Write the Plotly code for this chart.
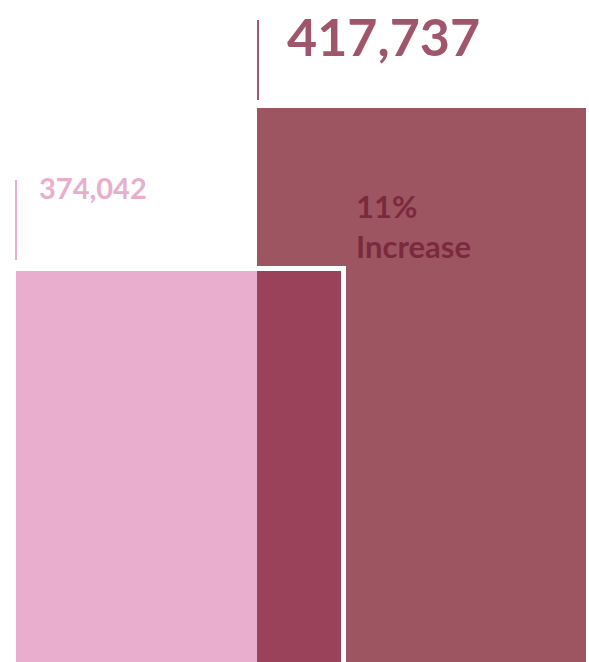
"""Overlapping bar comparison: 374,042 vs 417,737."""

import plotly.graph_objects as go

# data
labels = ["Before", "After"]
values = [374042, 417737]
value_text = ["374,042", "417,737"]
change_text = "11%<br>Increase"

PINK = "#e9aecd"
DARK = "#9e5562"
OVERLAP = "#9a4259"
LABEL_DARK = "#a0566a"
NOTE = "#7b2a3e"

# horizontal layout, in pixel-like x units (range 0..589)
pink_x0, pink_x1 = 16, 257
over_x1 = 341
dark_x0, dark_x1 = 257, 586

Y_MIN, Y_MAX = 269229, 446688

fig = go.Figure()

fig.add_trace(
    go.Bar(
        x=[(dark_x0 + dark_x1) / 2],
        y=[values[1]],
        width=[dark_x1 - dark_x0],
        marker={"color": DARK, "line": {"width": 0}},
        hoverinfo="skip",
    )
)
fig.add_trace(
    go.Bar(
        x=[(pink_x0 + pink_x1) / 2],
        y=[values[0]],
        width=[pink_x1 - pink_x0],
        marker={"color": PINK, "line": {"width": 0}},
        hoverinfo="skip",
    )
)
fig.add_trace(
    go.Bar(
        x=[(pink_x1 + over_x1) / 2],
        y=[values[0]],
        width=[over_x1 - pink_x1],
        marker={"color": OVERLAP, "line": {"width": 0}},
        hoverinfo="skip",
    )
)

# white frame around the overlap
shapes = [
    dict(type="rect", xref="x", yref="y", ysizemode="pixel", yanchor=values[0],
         x0=pink_x1, x1=over_x1 + 5, y0=0, y1=5,
         fillcolor="white", line={"width": 0}, layer="above"),
    dict(type="rect", xref="x", yref="y", ysizemode="pixel", yanchor=values[0],
         x0=over_x1, x1=over_x1 + 5, y0=-800, y1=5,
         fillcolor="white", line={"width": 0}, layer="above"),
    # leader ticks
    dict(type="line", xref="x", yref="y", ysizemode="pixel", yanchor=values[0],
         x0=16, x1=16, y0=11, y1=91, line={"color": PINK, "width": 2}),
    dict(type="line", xref="x", yref="y", ysizemode="pixel", yanchor=values[1],
         x0=258, x1=258, y0=8, y1=88, line={"color": LABEL_DARK, "width": 2}),
]

annotations = [
    dict(x=37, y=values[0], xref="x", yref="y", xanchor="left", yanchor="middle",
         yshift=84, text=f"<b>{value_text[0]}</b>", showarrow=False,
         font={"family": "Lato", "size": 29, "color": PINK}),
    dict(x=285, y=values[1], xref="x", yref="y", xanchor="left", yanchor="middle",
         yshift=72, text=f"<b>{value_text[1]}</b>", showarrow=False,
         font={"family": "Lato", "size": 52, "color": LABEL_DARK}),
    dict(x=354, y=values[1], xref="x", yref="y", xanchor="left", yanchor="top",
         yshift=-77, text=f"<b>{change_text}</b>", showarrow=False, align="left",
         font={"family": "Lato", "size": 31, "color": NOTE}),
]

fig.update_layout(
    width=589,
    height=662,
    margin={"l": 0, "r": 0, "t": 0, "b": 0},
    paper_bgcolor="white",
    plot_bgcolor="white",
    barmode="overlay",
    bargap=0,
    showlegend=False,
    xaxis={"range": [0, 589], "visible": False, "fixedrange": True},
    yaxis={"range": [Y_MIN, Y_MAX], "visible": False, "fixedrange": True},
    shapes=shapes,
    annotations=annotations,
)

fig.write_html(
    "out.html",
    config={"displayModeBar": False},
    post_script="document.body.style.margin='0';document.body.style.overflow='hidden';",
)
